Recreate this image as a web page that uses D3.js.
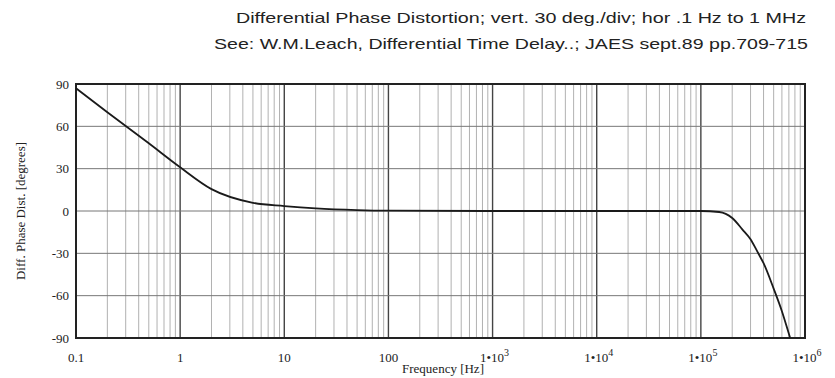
<!DOCTYPE html>
<meta charset="utf-8">
<style type="text/css">
body { margin: 0; background: #fff; }
.title { font-family: "Liberation Sans", Arial, sans-serif; font-size: 15px; fill: #222; }
.tick-label { font-family: "Liberation Serif", "Times New Roman", serif; font-size: 13px; fill: #222; }
.axis-label { font-family: "Liberation Serif", "Times New Roman", serif; font-size: 13px; fill: #222; }
.curve { fill: none; stroke: #1a1a1a; stroke-width: 1.8px; }
</style>
<body>
</body>
<script src="https://cdn.jsdelivr.net/npm/d3@7"></script>
<script>

// curve: frequency [Hz] and differential phase [deg]
var freqs = [0.1, 0.2, 0.5, 1, 2, 5, 10, 20, 50, 100, 1000, 10000, 100000, 150000, 200000, 250000, 300000, 350000, 400000, 500000, 600000, 700000, 720000];
var phase = [87, 70, 48, 31, 15.5, 5.8, 3.5, 1.8, 0.6, 0.2, 0, 0, 0, -0.7, -5, -13, -20, -29, -37, -55, -71, -87, -90];

// axis ticks
var xTickExps = [-1, 0, 1, 2, 3, 4, 5, 6];
var yTicks = [90, 60, 30, 0, -30, -60, -90];

var titles = ["Differential Phase Distortion; vert. 30 deg./div; hor .1 Hz to 1 MHz",
              "See: W.M.Leach, Differential Time Delay..; JAES sept.89 pp.709-715"];

var margin = {top: 84, right: 30, bottom: 40, left: 76},
    width = 835 - margin.left - margin.right,
    height = 378 - margin.top - margin.bottom;

var svgRoot = d3.select("body")
    .append("svg")
    .attr("width", 835)
    .attr("height", 378);

var svg = svgRoot.append("g")
    .attr("transform", "translate(" + margin.left + "," + margin.top + ")");

var x = d3.scaleLog().domain([0.1, 1e6]).range([0, width]);
var y = d3.scaleLinear().domain([-90, 90]).range([height, 0]);

// titles (the original is stretched wide)
svgRoot.selectAll(".title").data(titles)
    .enter().append("text")
    .attr("class", "title")
    .attr("x", function(d, i) { return i == 0 ? 236 : 214; })
    .attr("y", function(d, i) { return 23 + i * 26; })
    .attr("textLength", function(d, i) { return i == 0 ? 570 : 594; })
    .attr("lengthAdjust", "spacingAndGlyphs")
    .text(function(d) { return d; });

// vertical log grid, 1..9 in each decade
var gridF = [];
for (var e = -1; e < 6; e++) {
    for (var m = 1; m < 10; m++) {
        gridF.push({f: m * Math.pow(10, e), major: m == 1});
    }
}
gridF.push({f: 1e6, major: true});

svg.selectAll(".vgrid").data(gridF)
    .enter().append("line")
    .attr("class", "vgrid")
    .attr("x1", function(d) { return x(d.f); })
    .attr("x2", function(d) { return x(d.f); })
    .attr("y1", 0)
    .attr("y2", height)
    .style("stroke", function(d) { return d.major ? "#444" : "#a8a8a8"; })
    .style("stroke-width", function(d) { return d.major ? 1.4 : 0.9; });

// horizontal grid
svg.selectAll(".hgrid").data(yTicks)
    .enter().append("line")
    .attr("class", "hgrid")
    .attr("x1", 0)
    .attr("x2", width)
    .attr("y1", function(d) { return y(d); })
    .attr("y2", function(d) { return y(d); })
    .style("stroke", "#777")
    .style("stroke-width", 1);

// frame
svg.append("rect")
    .attr("x", 0).attr("y", 0)
    .attr("width", width).attr("height", height)
    .style("fill", "none")
    .style("stroke", "#222")
    .style("stroke-width", 2);

// y tick labels
svg.selectAll(".ylab").data(yTicks)
    .enter().append("text")
    .attr("class", "tick-label")
    .attr("x", -7)
    .attr("y", function(d) { return y(d) + 4.5; })
    .attr("text-anchor", "end")
    .text(function(d) { return d; });

// x tick labels
var xl = svg.selectAll(".xlab").data(xTickExps)
    .enter().append("text")
    .attr("class", "tick-label")
    .attr("x", function(d) { return x(Math.pow(10, d)) + (d > 2 ? 2 : 0); })
    .attr("y", height + 24)
    .attr("text-anchor", "middle");

xl.each(function(d) {
    var t = d3.select(this);
    if (d < 3) {
        t.text(d == -1 ? "0.1" : String(Math.pow(10, d)));
    } else {
        t.append("tspan").text("1\u202210");
        t.append("tspan").attr("dy", -6).style("font-size", "10px").text(d);
    }
});

// axis titles
svg.append("text")
    .attr("class", "axis-label")
    .attr("x", 367)
    .attr("y", height + 35)
    .attr("text-anchor", "middle")
    .text("Frequency  [Hz]");

svgRoot.append("text")
    .attr("class", "axis-label")
    .attr("transform", "translate(25," + (margin.top + height / 2) + ") rotate(-90)")
    .attr("text-anchor", "middle")
    .text("Diff. Phase Dist.  [degrees]");

// the curve
var points = freqs.map(function(f, i) { return {f: f, p: phase[i]}; });

var valueline = d3.line()
    .x(function(d) { return x(d.f); })
    .y(function(d) { return y(d.p); })
    .curve(d3.curveMonotoneX);

svg.append("path")
    .datum(points)
    .attr("class", "curve")
    .attr("d", valueline);

</script>
